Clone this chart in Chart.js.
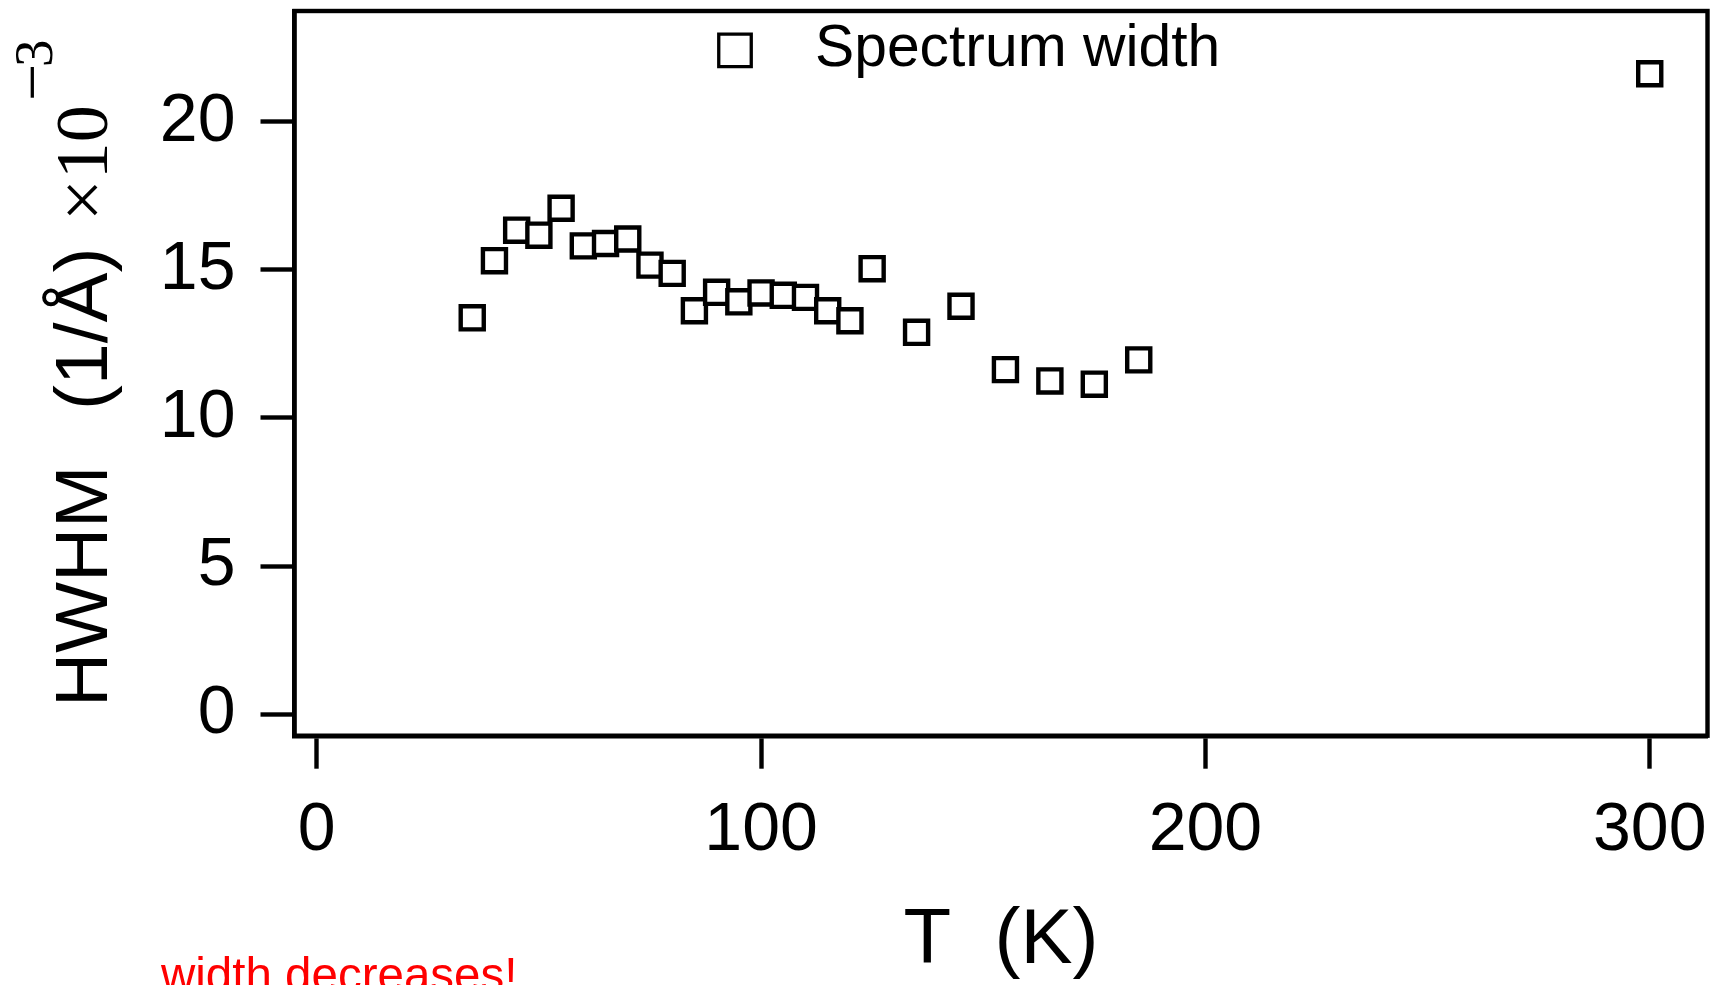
<!DOCTYPE html>
<html>
<head>
<meta charset="utf-8">
<script src="https://cdn.jsdelivr.net/npm/chart.js@4.4.1/dist/chart.umd.min.js"></script>
<style>
  html, body { margin: 0; padding: 0; background: #ffffff; }
  #wrap { width: 1717px; height: 985px; position: relative; }
</style>
</head>
<body>
<div id="wrap"><canvas id="chart" width="1717" height="985"></canvas></div>
<script>
// Spectrum half-width vs temperature
const temperatureK = [35, 40, 45, 50, 55, 60, 65, 70, 75, 80, 85, 90, 95, 100, 105, 110, 115, 120, 125, 135, 145, 155, 165, 175, 185, 300];
const hwhmE3 = [13.38, 15.31, 16.34, 16.17, 17.08, 15.81, 15.89, 16.04, 15.16, 14.88, 13.62, 14.24, 13.92, 14.22, 14.14, 14.07, 13.62, 13.28, 15.04, 12.89, 13.77, 11.63, 11.25, 11.14, 11.96, 21.62];
const xTickValues = [0, 100, 200, 300];
const yTickValues = [0, 5, 10, 15, 20];
const seriesLabel = 'Spectrum width';
const xTitle = 'T  (K)';
const yTitleMain = 'HWHM';
const yTitleUnit = '(1/Å)';
const yTitleFactor = '×10';
const yTitleMinus = '−';
const yTitleExp = '3';
const noteText = 'width decreases!';

const SANS = '"Liberation Sans", Arial, Helvetica, sans-serif';
const SERIF = '"Liberation Serif", "Times New Roman", serif';

const points = temperatureK.map((t, i) => ({ x: t, y: hwhmE3[i] }));

// Outer box around the plot area
const framePlugin = {
  id: 'frame',
  afterDraw(chart) {
    const { ctx, chartArea: a } = chart;
    ctx.save();
    ctx.strokeStyle = '#000';
    ctx.lineWidth = 4.4;
    ctx.strokeRect(a.left, a.top, a.right - a.left, a.bottom - a.top);
    ctx.restore();
  }
};

// Legend entry drawn inside the plot area
const innerLegend = {
  id: 'innerLegend',
  afterDraw(chart, args, opts) {
    const { ctx } = chart;
    const ds = chart.data.datasets[0];
    ctx.save();
    ctx.strokeStyle = ds.borderColor;
    ctx.fillStyle = '#fff';
    ctx.lineWidth = opts.lineWidth;
    const h = opts.size / 2;
    ctx.beginPath();
    ctx.rect(opts.markerX - h, opts.markerY - h, opts.size, opts.size);
    ctx.fill();
    ctx.stroke();
    ctx.fillStyle = '#000';
    ctx.font = opts.fontSize + 'px ' + SANS;
    ctx.textBaseline = 'alphabetic';
    ctx.textAlign = 'left';
    ctx.fillText(ds.label, opts.textX, opts.textY);
    ctx.restore();
  }
};

// Rotated y-axis title with power-of-ten factor
const yTitlePlugin = {
  id: 'yTitle',
  afterDraw(chart, args, o) {
    const { ctx } = chart;
    ctx.save();
    ctx.translate(o.x, o.y);
    ctx.rotate(-Math.PI / 2);
    ctx.fillStyle = '#000';
    ctx.textBaseline = 'alphabetic';
    ctx.textAlign = 'left';
    ctx.font = o.mainSize + 'px ' + SANS;
    ctx.fillText(yTitleMain, 0, 0);
    ctx.fillText(yTitleUnit, o.unitAt, 0);
    ctx.font = o.factorSize + 'px ' + SERIF;
    ctx.fillText(yTitleFactor, o.factorAt, 0);
    ctx.font = o.minusSize + 'px ' + SERIF;
    ctx.fillText(yTitleMinus, o.minusAt, o.minusRise);
    ctx.font = o.expSize + 'px ' + SERIF;
    ctx.fillText(yTitleExp, o.expAt, o.expRise);
    ctx.restore();
  }
};

// Red remark below the chart
const notePlugin = {
  id: 'note',
  afterDraw(chart, args, o) {
    const { ctx } = chart;
    ctx.save();
    ctx.fillStyle = '#ff0000';
    ctx.font = o.fontSize + 'px ' + SANS;
    ctx.textBaseline = 'alphabetic';
    ctx.textAlign = 'left';
    ctx.fillText(noteText, o.x, o.y);
    ctx.restore();
  }
};

new Chart(document.getElementById('chart'), {
  type: 'scatter',
  data: {
    datasets: [{
      label: seriesLabel,
      data: points,
      pointStyle: 'rect',
      pointRadius: 16.3,
      pointHoverRadius: 16.3,
      borderWidth: 4.4,
      borderColor: '#000',
      backgroundColor: '#fff',
      showLine: false
    }]
  },
  options: {
    responsive: false,
    animation: false,
    events: [],
    layout: { autoPadding: false, padding: { top: 11, right: 9.5, left: 0, bottom: 0 } },
    scales: {
      x: {
        type: 'linear',
        min: -5,
        max: 313,
        afterBuildTicks(s) { s.ticks = xTickValues.map(v => ({ value: v })); },
        afterFit(s) { s.height = 249.3; s.paddingLeft = 0; s.paddingRight = 0; },
        border: { display: true, width: 4.4, color: '#000' },
        grid: { display: true, drawOnChartArea: false, drawTicks: true, tickLength: 33, tickWidth: 4.4, tickColor: '#000' },
        ticks: { color: '#000', padding: 22, maxRotation: 0, font: { family: SANS, size: 68, lineHeight: 1.2 } },
        title: { display: true, text: xTitle, color: '#000', font: { family: SANS, size: 78, lineHeight: 1 }, padding: { top: 0, bottom: 5 } }
      },
      y: {
        type: 'linear',
        min: -0.73,
        max: 23.74,
        afterBuildTicks(s) { s.ticks = yTickValues.map(v => ({ value: v })); },
        afterFit(s) { s.width = 294.5; s.paddingTop = 0; s.paddingBottom = 0; },
        border: { display: true, width: 4.4, color: '#000' },
        grid: { display: true, drawOnChartArea: false, drawTicks: true, tickLength: 34, tickWidth: 4.4, tickColor: '#000' },
        ticks: { color: '#000', padding: 25, font: { family: SANS, size: 68, lineHeight: 1.2 } },
        title: { display: false }
      }
    },
    plugins: {
      legend: { display: false },
      tooltip: { enabled: false },
      innerLegend: { markerX: 735, markerY: 50.3, size: 32.5, lineWidth: 3.3, textX: 815, textY: 66, fontSize: 58.8 },
      yTitle: {
        x: 107, y: 707,
        mainSize: 75, unitAt: 297,
        factorSize: 74, factorAt: 486,
        minusSize: 66, minusAt: 606, minusRise: -53,
        expSize: 55, expAt: 640, expRise: -55
      },
      note: { x: 161, y: 991, fontSize: 47.5 }
    }
  },
  plugins: [framePlugin, innerLegend, yTitlePlugin, notePlugin]
});
</script>
</body>
</html>
